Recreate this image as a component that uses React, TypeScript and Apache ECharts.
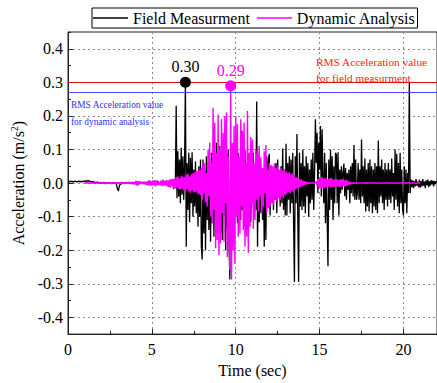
import React, { useEffect, useRef } from "react";
import * as echarts from "echarts";

// ---- data ----
const timeStep = 0.05; // s
const fieldStart = 0; // s
// Field measurement acceleration (m/s^2), sampled every 0.05 s from t = 0
const fieldAccel = [
  // 0 s
  0.004,0.005,0.003,0.006,0.004,0.005,0.003,0.004,0.006,0.005,0.004,0.003,0.005,0.006,0.004,0.005,0.003,0.005,0.004,0.006,
  // 1 s
  0.005,0.007,0.004,0.006,0.008,0.005,0.006,0.004,0.003,0.005,0.004,0.002,0.003,0.001,0.002,0.003,0.001,0.002,0.000,0.001,
  // 2 s
  0.002,-0.001,0.001,0.002,0.000,-0.002,0.001,0.000,0.002,-0.001,0.001,0.000,-0.002,0.001,0.000,0.002,-0.001,0.001,-0.006,-0.018,
  // 3 s
  -0.024,-0.012,-0.004,-0.003,0.000,0.002,-0.001,0.001,0.000,-0.002,0.002,0.000,-0.001,0.003,0.000,0.001,-0.002,0.002,0.000,0.001,
  // 4 s
  0.002,-0.002,0.003,0.000,-0.003,0.002,0.004,-0.002,0.001,0.003,-0.003,0.002,0.000,-0.004,0.003,0.001,-0.002,0.004,-0.001,0.002,
  // 5 s
  0.003,-0.004,0.005,-0.002,0.004,-0.005,0.003,0.006,-0.003,0.002,-0.006,0.004,0.001,-0.005,0.007,-0.002,0.003,-0.006,0.005,0.000,
  // 6 s
  0.004,-0.005,0.006,-0.008,0.010,-0.006,-0.018,0.012,-0.010,0.230,-0.045,0.095,-0.040,0.070,-0.060,0.105,-0.035,0.080,-0.050,0.060,
  // 7 s
  0.300,-0.190,0.060,-0.080,0.090,-0.117,0.075,-0.060,0.092,-0.100,0.040,-0.070,0.065,-0.090,0.030,-0.130,0.050,-0.100,0.070,-0.190,
  // 8 s
  -0.228,0.070,-0.150,0.040,-0.200,0.080,-0.110,0.060,-0.140,0.050,-0.175,0.090,-0.120,0.100,-0.160,0.070,-0.100,0.120,-0.130,0.060,
  // 9 s
  -0.120,0.110,-0.150,0.080,-0.170,0.130,-0.100,0.150,-0.200,0.090,-0.140,0.100,-0.180,-0.287,0.120,-0.160,0.070,-0.130,0.110,-0.090,
  // 10 s
  -0.100,0.080,-0.120,0.090,-0.060,0.060,-0.110,0.156,-0.080,0.070,-0.130,0.100,-0.090,0.060,-0.140,0.080,-0.050,0.090,-0.117,0.113,
  // 11 s
  -0.060,0.090,-0.100,0.050,-0.080,0.243,-0.190,0.070,-0.117,0.060,-0.090,0.040,-0.110,0.030,-0.190,0.050,-0.170,0.080,-0.060,0.070,
  // 12 s
  0.087,-0.097,0.050,-0.060,0.040,-0.080,0.030,-0.050,0.060,-0.090,0.070,-0.040,0.030,-0.070,0.050,-0.060,0.103,-0.080,0.040,-0.097,
  // 13 s
  0.117,-0.097,0.060,-0.050,0.080,-0.090,0.070,-0.060,0.090,-0.120,-0.295,0.080,-0.060,0.146,-0.100,-0.295,0.090,-0.070,0.060,-0.080,
  // 14 s
  0.100,-0.070,0.050,-0.090,0.080,-0.040,0.060,-0.100,0.040,-0.060,0.070,-0.050,0.090,-0.080,0.030,0.190,0.060,0.150,-0.030,0.120,
  // 15 s
  0.040,0.170,-0.040,0.160,0.020,-0.060,0.090,-0.120,0.060,-0.100,-0.248,0.070,-0.080,0.100,-0.050,0.080,-0.110,0.050,-0.060,0.090,
  // 16 s
  0.085,-0.060,0.092,-0.097,0.040,-0.030,0.050,-0.020,0.030,0.058,-0.039,0.045,-0.050,0.030,-0.020,0.040,-0.060,0.050,-0.030,0.060,
  // 17 s
  -0.040,0.113,-0.050,0.070,-0.050,-0.030,0.060,-0.050,0.040,-0.060,0.130,-0.040,0.050,-0.060,0.073,-0.085,0.040,-0.070,0.060,-0.085,
  // 18 s
  0.070,-0.060,0.050,-0.090,0.040,-0.070,0.060,-0.080,0.050,-0.090,0.127,-0.060,0.050,-0.040,0.070,-0.060,0.040,-0.080,0.060,-0.050,
  // 19 s
  0.040,-0.070,0.060,-0.050,0.040,-0.060,0.073,-0.040,0.030,-0.080,0.100,-0.050,0.087,-0.070,0.060,-0.090,0.090,-0.060,0.040,-0.080,
  // 20 s
  -0.097,0.050,-0.060,0.040,-0.090,0.030,-0.030,0.300,-0.030,0.010,-0.012,0.008,-0.015,0.006,-0.010,0.012,-0.008,0.004,-0.012,0.010,
  // 21 s
  -0.014,0.006,-0.010,0.012,-0.008,0.004,-0.015,0.008,-0.006,0.010,-0.012,0.005,-0.008,0.009,-0.004,0.007,-0.010,0.006,-0.003,0.005,
  0.002,
];

const dynamicStart = 1; // s
// Dynamic analysis acceleration (m/s^2), sampled every 0.05 s from t = 1
const dynamicAccel = [
  // 1 s
  0.000,0.001,-0.001,0.002,-0.001,0.001,-0.002,0.001,0.000,-0.001,0.002,-0.001,0.001,-0.002,0.001,0.000,-0.001,0.002,-0.001,0.001,
  // 2 s
  -0.002,0.002,-0.001,0.001,-0.002,0.002,-0.001,0.002,-0.002,0.001,-0.001,0.002,-0.002,0.001,-0.002,0.002,-0.001,0.001,-0.002,0.002,
  // 3 s
  -0.003,0.002,-0.002,0.003,-0.002,0.001,-0.003,0.002,-0.001,0.003,-0.002,0.002,-0.003,0.003,-0.002,0.001,-0.003,0.004,-0.003,0.002,
  // 4 s
  -0.005,0.007,-0.008,0.006,-0.007,0.005,-0.003,0.002,-0.003,0.003,-0.002,0.004,-0.004,0.003,-0.005,0.006,-0.008,0.009,-0.007,0.006,
  // 5 s
  -0.008,0.007,-0.006,0.009,-0.010,0.008,-0.007,0.005,-0.006,0.004,-0.005,0.007,-0.009,0.010,-0.008,0.006,-0.007,0.009,-0.010,0.008,
  // 6 s
  -0.012,0.010,-0.014,0.012,-0.009,0.013,-0.015,0.011,-0.016,0.018,-0.014,0.020,-0.018,0.015,-0.020,0.022,-0.017,0.019,-0.021,0.018,
  // 7 s
  -0.022,0.025,-0.018,0.028,-0.025,0.020,-0.030,0.026,-0.022,0.030,-0.028,0.032,-0.026,0.035,-0.030,0.038,-0.034,0.040,-0.036,0.045,
  // 8 s
  -0.050,0.058,-0.030,0.060,-0.058,0.030,-0.070,0.100,-0.040,0.120,-0.100,0.060,-0.120,0.224,-0.080,0.180,-0.194,0.090,-0.170,0.204,
  // 9 s
  -0.214,0.100,-0.180,0.190,-0.090,0.150,-0.175,0.200,-0.060,0.210,-0.220,0.080,-0.150,-0.260,0.290,-0.287,0.120,-0.200,0.170,-0.240,
  // 10 s
  0.200,-0.100,0.175,-0.160,0.080,-0.150,0.190,-0.070,0.156,-0.140,0.180,-0.190,0.060,-0.160,0.215,-0.208,0.090,-0.130,0.137,-0.060,
  // 11 s
  0.130,-0.136,0.060,-0.110,0.100,-0.050,0.090,-0.085,0.110,-0.040,0.077,-0.090,0.045,-0.070,0.095,-0.030,0.113,-0.090,0.040,-0.075,
  // 12 s
  0.060,-0.070,0.055,-0.060,0.050,-0.065,0.058,-0.050,0.045,-0.055,0.050,-0.045,0.040,-0.050,0.045,-0.040,0.038,-0.045,0.042,-0.036,
  // 13 s
  0.035,-0.032,0.030,-0.028,0.033,-0.030,0.026,-0.025,0.030,-0.027,0.022,-0.020,0.018,-0.016,0.015,-0.014,0.012,-0.013,0.010,-0.009,
  // 14 s
  0.008,-0.007,0.006,-0.005,0.004,-0.003,0.002,-0.002,0.001,-0.001,0.001,0.000,0.000,0.001,-0.001,0.000,0.005,-0.008,0.012,-0.014,
  // 15 s
  0.016,-0.015,0.018,-0.016,0.014,-0.017,0.015,-0.012,0.013,-0.014,0.012,-0.010,0.014,-0.012,0.015,-0.013,0.011,-0.012,0.010,-0.011,
  // 16 s
  0.012,-0.010,0.009,-0.011,0.010,-0.012,0.011,-0.009,0.012,-0.010,0.008,-0.009,0.010,-0.008,0.006,-0.005,0.004,-0.003,0.002,-0.002,
  // 17 s
  0.001,-0.001,0.001,0.000,0.000,0.001,-0.001,0.000,0.001,0.000,-0.001,0.000,0.001,0.000,0.000,-0.001,0.001,0.000,0.000,0.001,
  // 18 s
  0.000,0.001,0.000,-0.001,0.000,0.000,0.001,0.000,-0.001,0.000,0.001,0.000,0.000,-0.001,0.000,0.001,0.000,0.000,-0.001,0.000,
  // 19 s
  0.001,0.000,0.000,-0.001,0.000,0.001,0.000,0.000,-0.001,0.000,0.000,0.001,0.000,-0.001,0.000,0.000,0.001,0.000,0.000,-0.001,
  // 20 s
  0.000,0.001,0.000,0.000,-0.001,0.000,0.001,0.000,0.000,-0.001,0.000,0.000,0.001,0.000,0.000,-0.001,0.000,0.001,0.000,0.000,
  0.000,
];

const fieldPeak = [7.0, 0.3]; // [s, m/s^2]
const dynamicPeak = [9.7, 0.29];
const rmsField = 0.3;
const rmsDynamic = 0.27;
const yTickValues = [-0.4, -0.3, -0.2, -0.1, 0, 0.1, 0.2, 0.3, 0.4];
const seriesNames = ["Field Measurment", "Dynamic Analysis"];
const rmsFieldText = "RMS Acceleration value\nfor field measurment";
const rmsDynamicText = "RMS Acceleration value\nfor dynamic analysis";

const FONT = "Liberation Serif, Times New Roman, serif";

export default function App() {
  const ref = useRef<HTMLDivElement>(null);
  useEffect(() => {
    if (!ref.current) return;
    const chart = echarts.init(ref.current, null, { renderer: "svg" });
    const fieldData = fieldAccel.map((v, i) => [fieldStart + i * timeStep, v]);
    const dynData = dynamicAccel.map((v, i) => [dynamicStart + i * timeStep, v]);
    const gridLine = { show: true, lineStyle: { color: "#8a8a8a", type: [2, 3], width: 1 } };
    const tickRich = { t: { fontFamily: FONT, fontSize: 16, color: "#000" } };
    chart.setOption({
      animation: false,
      textStyle: { fontFamily: FONT },
      legend: {
        data: [
          { name: seriesNames[0], icon: "rect", itemStyle: { color: "#000" } },
          { name: seriesNames[1], icon: "rect", itemStyle: { color: "#ff00ff" } },
        ],
        left: 92,
        top: 8,
        width: 330,
        borderColor: "#000",
        borderWidth: 1,
        padding: [1, 2, 1, 1],
        itemGap: 7,
        itemWidth: 35,
        itemHeight: 1.3,
        textStyle: { fontFamily: FONT, fontSize: 16, color: "#000", lineHeight: 18 },
      },
      grid: {
        left: 68,
        top: 32,
        width: 371,
        height: 309.7,
        show: true,
        borderColor: "#222",
        borderWidth: 1,
        containLabel: false,
      },
      xAxis: {
        type: "value",
        min: 0,
        max: 22,
        interval: 5,
        name: "Time (sec)",
        nameLocation: "middle",
        nameGap: 21,
        nameTextStyle: { fontFamily: FONT, fontSize: 16, color: "#000" },
        axisLine: { show: true, onZero: false, lineStyle: { color: "#222", width: 1 } },
        axisTick: { show: true, inside: true, length: 5, lineStyle: { color: "#222" } },
        minorTick: { show: true, splitNumber: 2, length: 3, lineStyle: { color: "#222" } },
        axisLabel: {
          fontFamily: FONT,
          fontSize: 16,
          color: "#000",
          margin: 7,
          showMaxLabel: false,
          formatter: (v: number) => `{t|${v}}`,
          rich: tickRich,
        },
        splitLine: gridLine,
      },
      yAxis: [
        {
          type: "value",
          min: -0.45,
          max: 0.45,
          name: "Acceleration (m/s{sup|2})",
          nameLocation: "middle",
          nameGap: 38,
          nameRotate: 90,
          nameTextStyle: {
            fontFamily: FONT,
            fontSize: 16,
            color: "#000",
            rich: { sup: { fontSize: 10, verticalAlign: "top", padding: [0, 0, 8, 0], fontFamily: FONT, color: "#000" } },
          },
          axisLine: { show: true, onZero: false, lineStyle: { color: "#222", width: 1 } },
          axisTick: { show: true, inside: true, length: 5, customValues: yTickValues, lineStyle: { color: "#222" } },
          axisLabel: {
            fontFamily: FONT,
            fontSize: 16,
            color: "#000",
            margin: 5,
            customValues: yTickValues,
            formatter: (v: number) => `{t|${v.toFixed(1)}}`,
            rich: tickRich,
          },
          splitLine: gridLine,
        },
        {
          type: "value",
          min: -0.45,
          max: 0.45,
          interval: 0.05,
          position: "left",
          axisLine: { show: false },
          axisTick: { show: true, inside: true, length: 3, lineStyle: { color: "#222" } },
          axisLabel: { show: false },
          splitLine: { show: false },
        },
      ],
      series: [
        {
          name: seriesNames[0],
          type: "line",
          data: fieldData,
          symbol: "none",
          lineStyle: { color: "#000", width: 1.3 },
          itemStyle: { color: "#000" },
          z: 2,
          markLine: {
            silent: true,
            symbol: "none",
            label: { show: false },
            lineStyle: { color: "#dd1010", type: "solid", width: 1.2 },
            data: [{ yAxis: rmsField }],
          },
          markPoint: {
            symbol: "circle",
            symbolSize: 11,
            itemStyle: { color: "#000" },
            label: {
              show: true,
              position: "top",
              distance: 2,
              fontFamily: FONT,
              fontSize: 16,
              color: "#000",
              formatter: () => fieldPeak[1].toFixed(2),
            },
            data: [{ coord: fieldPeak }],
          },
        },
        {
          name: seriesNames[1],
          type: "line",
          data: dynData,
          symbol: "none",
          lineStyle: { color: "#ff00ff", width: 1.4 },
          itemStyle: { color: "#ff00ff" },
          z: 3,
          markLine: {
            silent: true,
            symbol: "none",
            label: { show: false },
            lineStyle: { color: "#4a4aff", type: "solid", width: 1.2 },
            data: [{ yAxis: rmsDynamic }],
          },
          markPoint: {
            symbol: "circle",
            symbolSize: 11,
            itemStyle: { color: "#ff00ff" },
            label: {
              show: true,
              position: "top",
              distance: 2,
              fontFamily: FONT,
              fontSize: 16,
              color: "#ff00ff",
              formatter: () => dynamicPeak[1].toFixed(2),
            },
            data: [{ coord: dynamicPeak }],
          },
        },
      ],
      graphic: [
        {
          type: "text",
          x: 316,
          y: 54.3,
          z: 10,
          style: {
            text: rmsFieldText,
            font: `11.3px ${FONT}`,
            fill: "#ff2020",
            lineHeight: 16,
            verticalAlign: "top",
          },
        },
        {
          type: "text",
          x: 71,
          y: 96.7,
          z: 10,
          style: {
            text: rmsDynamicText,
            font: `9.4px ${FONT}`,
            fill: "#3030ff",
            lineHeight: 16.7,
            verticalAlign: "top",
          },
        },
      ],
    });
    return () => chart.dispose();
  }, []);
  return (
    <div
      ref={ref}
      style={{ position: "fixed", left: 0, top: 0, width: 437, height: 383, background: "#fff" }}
    />
  );
}
